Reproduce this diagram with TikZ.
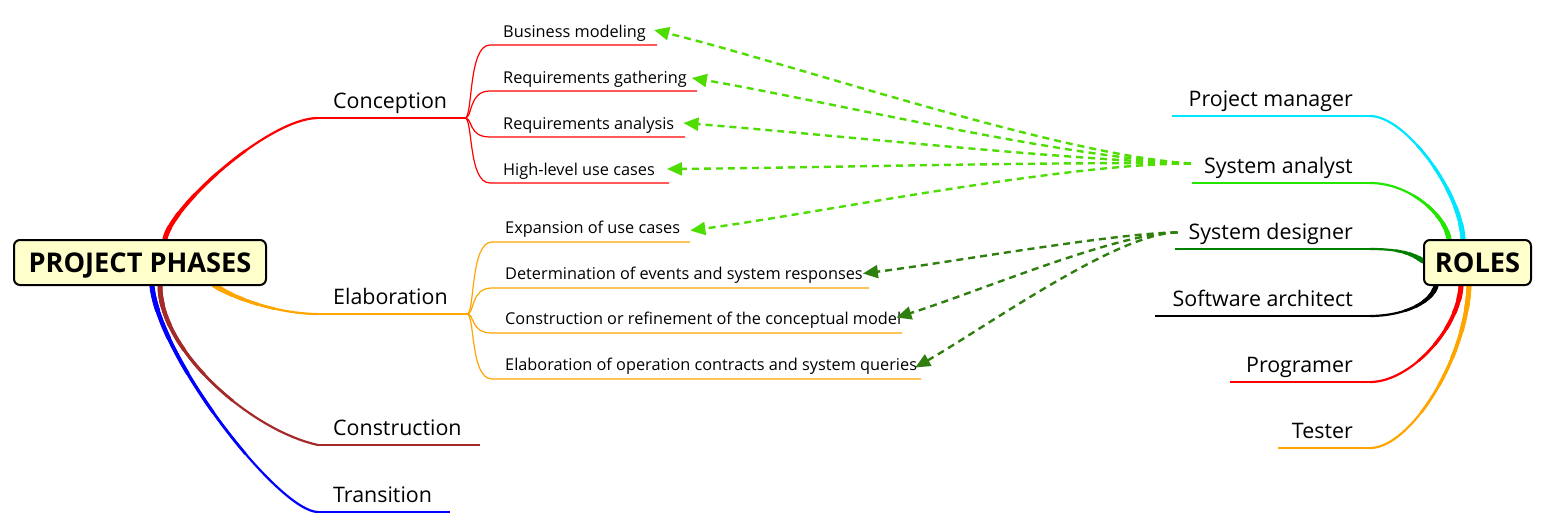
\documentclass[tikz,border=0pt]{standalone}
\usepackage{fontspec}
\setmainfont{Open Sans}
\usetikzlibrary{arrows.meta,calc}
\pgfdeclarelayer{back}
\pgfsetlayers{back,main}

\definecolor{rootfill}{HTML}{FFFFCC}
\definecolor{conred}{HTML}{FF0000}
\definecolor{elaorange}{HTML}{FFA500}
\definecolor{cstbrown}{HTML}{A52A2A}
\definecolor{trablue}{HTML}{0000FF}
\definecolor{pmcyan}{HTML}{00E6FF}
\definecolor{sagreen}{HTML}{22E600}
\definecolor{sdgreen}{HTML}{008000}
\definecolor{lightarrowcol}{HTML}{4DDD00}
\definecolor{darkarrowcol}{HTML}{2F7F0F}

% first part (0..t) of a bezier curve
\newcommand{\taperpart}[6]{%
  \coordinate (qA) at ($#1!#5!#2$);
  \coordinate (qB) at ($#2!#5!#3$);
  \coordinate (qC) at ($#3!#5!#4$);
  \coordinate (qD) at ($(qA)!#5!(qB)$);
  \coordinate (qE) at ($(qB)!#5!(qC)$);
  \coordinate (qF) at ($(qD)!#5!(qE)$);
  \draw[#6] #1 .. controls (qA) and (qD) .. (qF);
}
% thick-to-thin branch from a root box
\newcommand{\branch}[5]{%
  \draw[#5,line width=2.2pt] #1 .. controls #2 and #3 .. #4;
  \foreach \t/\w in {0.6/2.7,0.45/3.2,0.32/3.8,0.2/4.4,0.1/5}{
    \taperpart{#1}{#2}{#3}{#4}{\t}{#5,line width=\w pt,line cap=round}
  }
}

\begin{document}
\begin{tikzpicture}[x=1pt,y=-1pt,
    root/.style={draw,line width=2pt,rounded corners=6pt,fill=rootfill,
      minimum height=45pt,inner sep=0pt,text depth=0pt,
      font=\fontsize{27.2}{32}\selectfont\bfseries},
    phase/.style={anchor=base west,inner sep=0pt,font=\fontsize{21.4}{25}\selectfont},
    role/.style={anchor=base east,inner sep=0pt,font=\fontsize{21.4}{25}\selectfont},
    task/.style={anchor=base west,inner sep=0pt,font=\fontsize{16.3}{19}\selectfont},
    lightarrow/.style={lightarrowcol,line width=2.4pt,dash pattern=on 7pt off 5pt,
      -{Triangle[length=15pt,width=13pt]}},
    darkarrow/.style={darkarrowcol,line width=2.4pt,dash pattern=on 7pt off 5pt,
      -{Triangle[length=15pt,width=13pt]}}]
    \useasboundingbox (0,0) rectangle (1545,525);

    % roots
    \node[root,minimum width=252pt] (pp) at (140,262.5) {PROJECT PHASES};
    \node[root,minimum width=107pt] (roles) at (1477.5,262.5) {ROLES};

    % phases
    \foreach \n/\t/\y/\xe/\c in {con/Conception/118/465/conred,
        ela/Elaboration/314/467/elaorange,
        cst/Construction/445/480/cstbrown,
        tra/Transition/512/450/trablue}{
        \node[phase] (\n) at (333,\y-10) {\t};
        \coordinate (\n0) at (318,\y);
        \coordinate (\n1) at (\xe,\y);
        \draw[\c,line width=2.2pt] (\n0) -- (\n1);
    }

    % roles
    \foreach \n/\t/\y/\xs/\c in {pm/Project manager/116/1172/pmcyan,
        sa/System analyst/183/1192/sagreen,
        sd/System designer/249/1175/sdgreen,
        sw/Software architect/316/1155/black,
        pg/Programer/382/1230/conred,
        ts/Tester/448/1278/elaorange}{
        \node[role] (\n) at (1353,\y-9.5) {\t};
        \coordinate (\n0) at (1370,\y);
        \coordinate (\n1) at (\xs,\y);
        \draw[\c,line width=2.2pt] (\n0) -- (\n1);
    }

    % root branches
    \begin{pgfonlayer}{back}
        \coordinate (conr) at ($(pp.north)+(25,0)$);
        \coordinate (elar) at ($(pp.south)+(74,-1)$);
        \coordinate (cstr) at ($(pp.south)+(20,0)$);
        \coordinate (trar) at ($(pp.south)+(12,0)$);
        \branch{(conr)}{(172,205)}{(270,118)}{(con0)}{conred}
        \branch{(elar)}{(240,302)}{(285,314)}{(ela0)}{elaorange}
        \branch{(cstr)}{(160,350)}{(250,430)}{(cst0)}{cstbrown}
        \branch{(trar)}{(160,360)}{(280,512)}{(tra0)}{trablue}

        \coordinate (pmr) at ($(roles.north)+(-14.5,0)$);
        \coordinate (sar) at ($(roles.north)+(-28.5,0)$);
        \coordinate (sdr) at ($(roles.west)+(0,-1.5)$);
        \coordinate (swr) at ($(roles.south)+(-41.5,0)$);
        \coordinate (pgr) at ($(roles.south)+(-16.5,0)$);
        \coordinate (tsr) at ($(roles.south)+(-8.5,0)$);
        \branch{(pmr)}{(1460,190)}{(1405,116)}{(pm0)}{pmcyan}
        \branch{(sar)}{(1445,215)}{(1410,183)}{(sa0)}{sagreen}
        \branch{(sdr)}{(1410,252)}{(1395,249)}{(sd0)}{sdgreen}
        \branch{(swr)}{(1430,305)}{(1400,316)}{(sw0)}{black}
        \branch{(pgr)}{(1458,330)}{(1410,382)}{(pg0)}{conred}
        \branch{(tsr)}{(1466,360)}{(1410,448)}{(ts0)}{elaorange}
    \end{pgfonlayer}

    % conception tasks
    \foreach \n/\t/\y/\xe in {bm/Business modeling/45/657,
        rg/Requirements gathering/91/697,
        ra/Requirements analysis/137/685,
        hl/High-level use cases/183/669}{
        \node[task] (\n) at (503,\y-8) {\t};
        \draw[conred,line width=1.2pt] (con1) .. controls +(8,0) and (468,\y) .. (490,\y) -- (\xe,\y);
    }

    % elaboration tasks
    \foreach \n/\t/\y/\xe in {eu/Expansion of use cases/242/690,
        de/Determination of events and system responses/288/869,
        cm/Construction or refinement of the conceptual model/333/902,
        oc/Elaboration of operation contracts and system queries/379/921}{
        \node[task] (\n) at (505,\y-8.5) {\t};
        \draw[elaorange,line width=1.2pt] (ela1) .. controls +(8,0) and (470,\y) .. (492,\y) -- (\xe,\y);
    }

    % who does what
    \coordinate (sa2) at ($(sa.base west)+(-13,-10)$);
    \coordinate (sd2) at ($(sd.base west)+(-11,-7)$);
    \draw[lightarrow] (sa2) .. controls +(-130,-8) and +(135,33) .. ([shift={(8,-7)}]bm.base east);
    \draw[lightarrow] (sa2) .. controls +(-130,-6) and +(125,21) .. ([shift={(5,-5)}]rg.base east);
    \draw[lightarrow] (sa2) .. controls +(-130,-4) and +(128,10) .. ([shift={(9,-6)}]ra.base east);
    \draw[lightarrow] (sa2) .. controls +(-130,-2) and +(132,-1) .. ([shift={(12,-6)}]hl.base east);
    \draw[lightarrow] (sa2) .. controls +(-130,0) and +(126,-17) .. ([shift={(10,-3)}]eu.base east);
    \draw[darkarrow] (sd2) .. controls +(-60,0) and +(80,-10) .. ([shift={(0,-6)}]de.base east);
    \draw[darkarrow] (sd2) .. controls +(-60,0) and +(80,-25) .. ([shift={(-5,-7)}]cm.base east);
    \draw[darkarrow] (sd2) .. controls +(-60,0) and +(70,-40) .. ([shift={(-2,-3)}]oc.base east);
\end{tikzpicture}
\end{document}
